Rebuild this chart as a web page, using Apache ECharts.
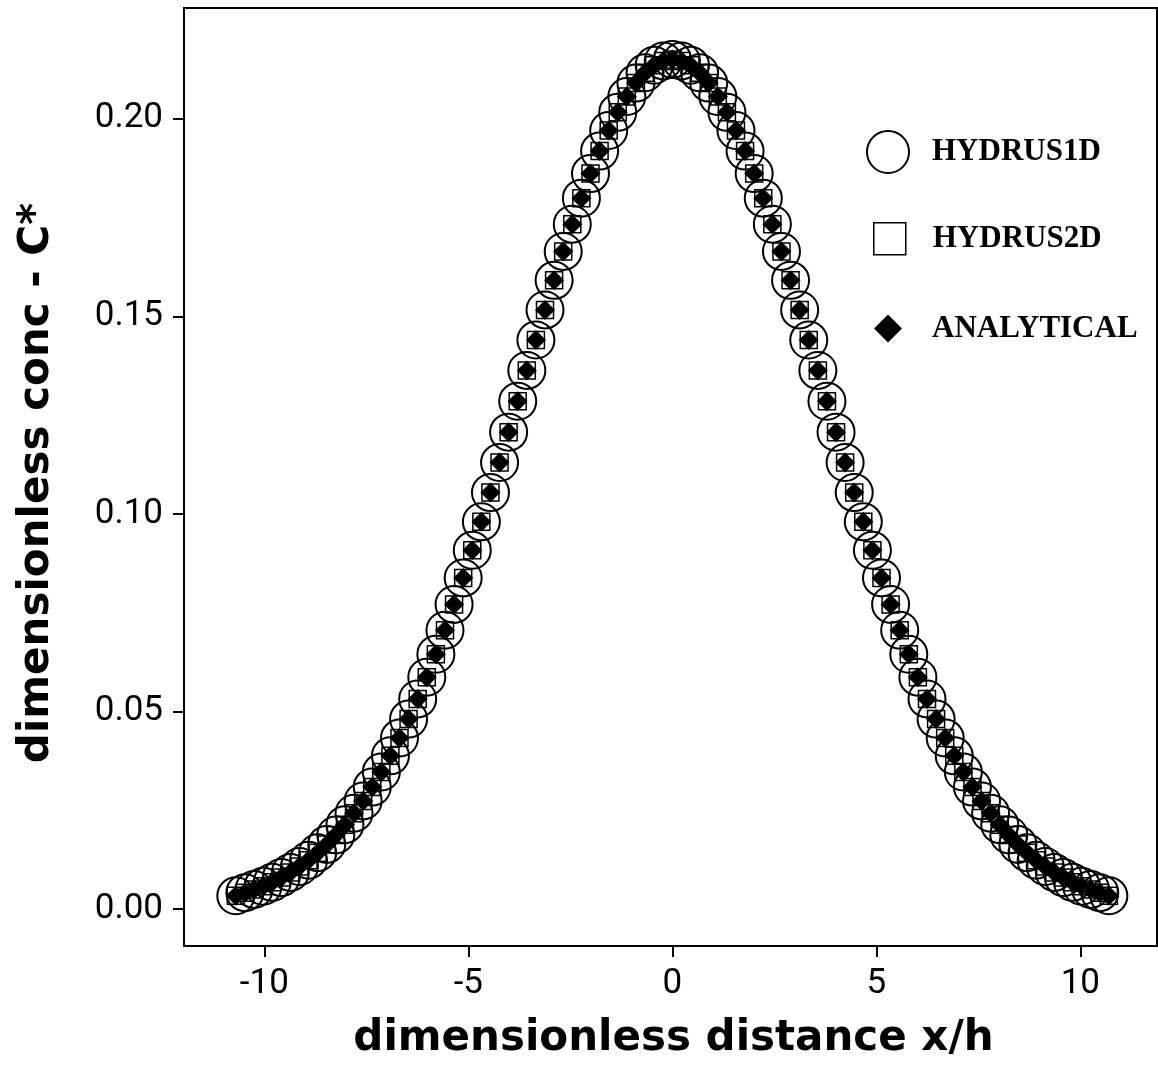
<!DOCTYPE html>
<html>
<head>
<meta charset="utf-8">
<script src="https://cdn.jsdelivr.net/npm/echarts@6/dist/echarts.min.js"></script>
<style>
html,body{margin:0;padding:0;background:#fff;}
#chart{width:1158px;height:1065px;}
</style>
</head>
<body>
<div id="chart"></div>
<script>
// dimensionless distance x/h of each sampled point
const X_DIST = [-10.700,-10.477,-10.254,-10.031,-9.808,-9.585,-9.363,-9.140,-8.917,-8.694,-8.471,-8.248,-8.025,-7.802,-7.579,-7.356,-7.133,-6.910,-6.688,-6.465,-6.242,-6.019,-5.796,-5.573,-5.350,-5.127,-4.904,-4.681,-4.458,-4.235,-4.013,-3.790,-3.567,-3.344,-3.121,-2.898,-2.675,-2.452,-2.229,-2.006,-1.783,-1.560,-1.338,-1.115,-0.892,-0.669,-0.446,-0.223,0.000,
0.223,0.446,0.669,0.892,1.115,1.338,1.560,1.783,2.006,2.229,2.452,2.675,2.898,3.121,3.344,3.567,3.790,4.013,4.235,4.458,4.681,4.904,5.127,5.350,5.573,5.796,6.019,6.242,6.465,6.688,6.910,7.133,7.356,7.579,7.802,8.025,8.248,8.471,8.694,8.917,9.140,9.363,9.585,9.808,10.031,10.254,10.477,10.700];

const ANALYTICAL = [0.0034,0.0042,0.0050,0.0058,0.0068,0.0080,0.0093,0.0108,0.0124,0.0143,0.0164,0.0188,0.0214,0.0243,0.0274,0.0309,0.0347,0.0388,0.0433,0.0481,0.0532,0.0587,0.0645,0.0706,0.0771,0.0838,0.0908,0.0980,0.1054,0.1130,0.1207,0.1285,0.1363,0.1440,0.1516,0.1591,0.1664,0.1733,0.1799,0.1861,0.1918,0.1970,0.2016,0.2056,0.2090,0.2116,0.2135,0.2146,0.2150,
0.2146,0.2135,0.2116,0.2090,0.2056,0.2016,0.1970,0.1918,0.1861,0.1799,0.1733,0.1664,0.1591,0.1516,0.1440,0.1363,0.1285,0.1207,0.1130,0.1054,0.0980,0.0908,0.0838,0.0771,0.0706,0.0645,0.0587,0.0532,0.0481,0.0433,0.0388,0.0347,0.0309,0.0274,0.0243,0.0214,0.0188,0.0164,0.0143,0.0124,0.0108,0.0093,0.0080,0.0068,0.0058,0.0050,0.0042,0.0034];

const HYDRUS1D = [0.0034,0.0042,0.0050,0.0058,0.0068,0.0080,0.0093,0.0108,0.0124,0.0143,0.0164,0.0188,0.0214,0.0243,0.0274,0.0309,0.0347,0.0388,0.0433,0.0481,0.0532,0.0587,0.0645,0.0706,0.0771,0.0838,0.0908,0.0980,0.1054,0.1130,0.1207,0.1285,0.1363,0.1440,0.1516,0.1591,0.1664,0.1733,0.1799,0.1861,0.1918,0.1970,0.2016,0.2056,0.2090,0.2116,0.2135,0.2146,0.2150,
0.2146,0.2135,0.2116,0.2090,0.2056,0.2016,0.1970,0.1918,0.1861,0.1799,0.1733,0.1664,0.1591,0.1516,0.1440,0.1363,0.1285,0.1207,0.1130,0.1054,0.0980,0.0908,0.0838,0.0771,0.0706,0.0645,0.0587,0.0532,0.0481,0.0433,0.0388,0.0347,0.0309,0.0274,0.0243,0.0214,0.0188,0.0164,0.0143,0.0124,0.0108,0.0093,0.0080,0.0068,0.0058,0.0050,0.0042,0.0034];

const HYDRUS2D = [0.0034,0.0042,0.0050,0.0058,0.0068,0.0080,0.0093,0.0108,0.0124,0.0143,0.0164,0.0188,0.0214,0.0243,0.0274,0.0309,0.0347,0.0388,0.0433,0.0481,0.0532,0.0587,0.0645,0.0706,0.0771,0.0838,0.0908,0.0980,0.1054,0.1130,0.1207,0.1285,0.1363,0.1440,0.1516,0.1591,0.1664,0.1733,0.1799,0.1861,0.1918,0.1970,0.2016,0.2056,0.2090,0.2116,0.2135,0.2146,0.2150,
0.2146,0.2135,0.2116,0.2090,0.2056,0.2016,0.1970,0.1918,0.1861,0.1799,0.1733,0.1664,0.1591,0.1516,0.1440,0.1363,0.1285,0.1207,0.1130,0.1054,0.0980,0.0908,0.0838,0.0771,0.0706,0.0645,0.0587,0.0532,0.0481,0.0433,0.0388,0.0347,0.0309,0.0274,0.0243,0.0214,0.0188,0.0164,0.0143,0.0124,0.0108,0.0093,0.0080,0.0068,0.0058,0.0050,0.0042,0.0034];

const X_TICKS = [-10, -5, 0, 5, 10];
const Y_TICKS = [0, 0.05, 0.10, 0.15, 0.20];
const SERIES_NAMES = ['HYDRUS1D', 'HYDRUS2D', 'ANALYTICAL'];

function pairs(xs, ys) { return xs.map((x, i) => [x, ys[i]]); }

const chart = echarts.init(document.getElementById('chart'), null, {renderer: 'canvas'});

const tickFont = {fontFamily: 'Roboto', fontSize: 35, color: '#000'};
const nameFont = {fontFamily: 'DejaVu Sans', fontWeight: 'bold', fontSize: 42, color: '#000'};
const legendText = {fontFamily: 'Liberation Serif', fontWeight: 'bold', fontSize: 31, color: '#000'};

const option = {
  backgroundColor: '#fff',
  animation: false,
  grid: {left: 184, top: 8, right: 1, bottom: 118, show: true, borderColor: '#000', borderWidth: 2, containLabel: false},
  legend: [
    {data: [SERIES_NAMES[0]], icon: 'circle', left: 861, top: 125, itemWidth: 44, itemHeight: 42,
     textStyle: Object.assign({padding: [0, 0, 0, 17]}, legendText), selectedMode: false,
     itemStyle: {color: 'rgba(255,255,255,0)', borderColor: '#000', borderWidth: 2, opacity: 1}},
    {data: [SERIES_NAMES[1]], icon: 'rect', left: 868, top: 217, itemWidth: 32, itemHeight: 32,
     textStyle: Object.assign({padding: [0, 0, 0, 22]}, legendText), selectedMode: false,
     itemStyle: {color: 'rgba(255,255,255,0)', borderColor: '#000', borderWidth: 1.5, opacity: 1}},
    {data: [SERIES_NAMES[2]], icon: 'diamond', left: 869, top: 308, itemWidth: 28, itemHeight: 28,
     textStyle: Object.assign({padding: [0, 0, 0, 25]}, legendText), selectedMode: false,
     itemStyle: {color: '#000', borderWidth: 0, opacity: 1}}
  ],
  xAxis: {
    type: 'value', min: -11.97, max: 11.88,
    name: 'dimensionless distance x/h', nameLocation: 'middle', nameGap: 72,
    nameTextStyle: Object.assign({padding: [0, 0, 0, 6]}, nameFont),
    axisLine: {show: true, onZero: false, lineStyle: {color: '#000', width: 2}},
    axisTick: {show: true, length: 11, lineStyle: {color: '#000', width: 2}, customValues: X_TICKS},
    axisLabel: {margin: 21, customValues: X_TICKS, formatter: v => String(v), ...tickFont},
    splitLine: {show: false}
  },
  yAxis: {
    type: 'value', min: -0.0093, max: 0.228,
    name: 'dimensionless conc - C*', nameLocation: 'middle', nameGap: 126, nameRotate: 90,
    nameTextStyle: Object.assign({padding: [0, 12, 0, 0]}, nameFont),
    axisLine: {show: true, onZero: false, lineStyle: {color: '#000', width: 2}},
    axisTick: {show: true, length: 11, lineStyle: {color: '#000', width: 2}, customValues: Y_TICKS},
    axisLabel: {margin: 21, customValues: Y_TICKS, formatter: v => v.toFixed(2), ...tickFont},
    splitLine: {show: false}
  },
  series: [
    {name: SERIES_NAMES[0], type: 'scatter', symbol: 'circle', symbolSize: 37,
     itemStyle: {color: 'rgba(255,255,255,0)', borderColor: '#000', borderWidth: 2, opacity: 1},
     data: pairs(X_DIST, HYDRUS1D)},
    {name: SERIES_NAMES[1], type: 'scatter', symbol: 'rect', symbolSize: 17,
     itemStyle: {color: 'rgba(255,255,255,0)', borderColor: '#000', borderWidth: 1.5, opacity: 1},
     data: pairs(X_DIST, HYDRUS2D)},
    {name: SERIES_NAMES[2], type: 'scatter', symbol: 'diamond', symbolSize: 20,
     itemStyle: {color: '#000', borderColor: '#000', borderWidth: 0, opacity: 1},
     data: pairs(X_DIST, ANALYTICAL)}
  ]
};
chart.setOption(option);
</script>
</body>
</html>
